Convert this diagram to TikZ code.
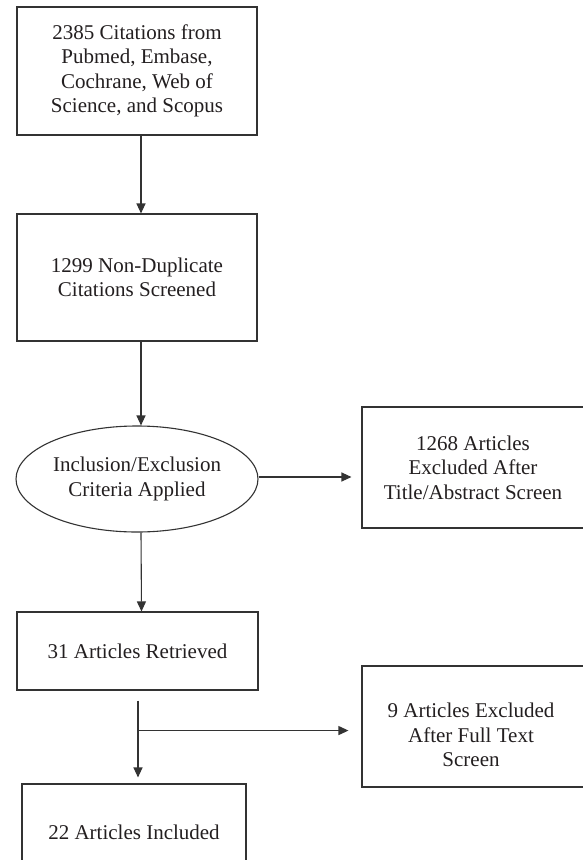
\documentclass[tikz,border=0pt]{standalone}
\usepackage{fontspec}
\setmainfont{Liberation Serif}
\usetikzlibrary{shapes.geometric,arrows.meta}
\definecolor{ink}{HTML}{231F20}
\definecolor{edge}{HTML}{333333}
\tikzset{
  boxnode/.style={draw=edge, line width=1.1pt, rectangle, inner sep=0pt, align=center, text=ink,
    font=\fontsize{21}{24.5}\selectfont},
  ellnode/.style={draw=edge, line width=1.1pt, ellipse, inner sep=0pt, align=center, text=ink,
    font=\fontsize{21}{24.5}\selectfont, minimum width=242pt, minimum height=106pt},
  txtnode/.style={inner sep=0pt, align=center, text=ink, font=\fontsize{21}{24.5}\selectfont},
  arr/.style={draw=edge, line width=1.1pt, -{Triangle[width=9pt,length=10pt]}}
}
\begin{document}
\begin{tikzpicture}[x=1pt,y=-1pt]
\useasboundingbox (0,0) rectangle (583,860);
\fill[white] (0,0) rectangle (583,860);

\node[boxnode, minimum width=240pt, minimum height=128pt] (b1) at (137,71)
  {2385 Citations from\\Pubmed, Embase,\\Cochrane, Web of\\Science, and Scopus};
\node[boxnode, minimum width=240pt, minimum height=127pt] (b2) at (137,277.5)
  {1299 Non-Duplicate\\Citations Screened};
\node[ellnode] (ell) at (137,479) {Inclusion/Exclusion\\Criteria Applied};
\node[boxnode, minimum width=222pt, minimum height=121pt] (r1) at (473,467.5)
  {1268 Articles\\Excluded After\\Title/Abstract Screen};
\node[boxnode, minimum width=241pt, minimum height=78pt] (b4) at (137.5,651)
  {31 Articles Retrieved};
\node[boxnode, minimum width=222pt, minimum height=121pt] (r2) at (473,726.5) {};
\node[txtnode] (r2t) at (471,735) {9 Articles Excluded\\After Full Text\\Screen};
\node[boxnode, minimum width=224pt, minimum height=96pt] (b5) at (134,832)
  {22 Articles Included};

\draw[arr] ([xshift=4pt]b1.south) -- ([xshift=4pt]b2.north);
\draw[arr] ([xshift=4pt]b2.south) -- ([xshift=4pt]ell.north);
\draw[arr, shorten >=10pt] ([yshift=2pt]ell.east) -- ([yshift=2pt]ell.east -| r1.west);
\draw[arr] ([xshift=4pt]ell.south) -- ([xshift=4pt]b4.north);

\coordinate (s) at ([xshift=0.5pt,yshift=-10pt]b4.south);
\coordinate (j) at ([xshift=0.5pt,yshift=-40pt]b4.south);
\draw[arr, shorten >=6pt] (s) -- (s |- b5.north);
\draw[arr, shorten >=13pt] (j) -- (j -| r2.west);
\end{tikzpicture}
\end{document}
